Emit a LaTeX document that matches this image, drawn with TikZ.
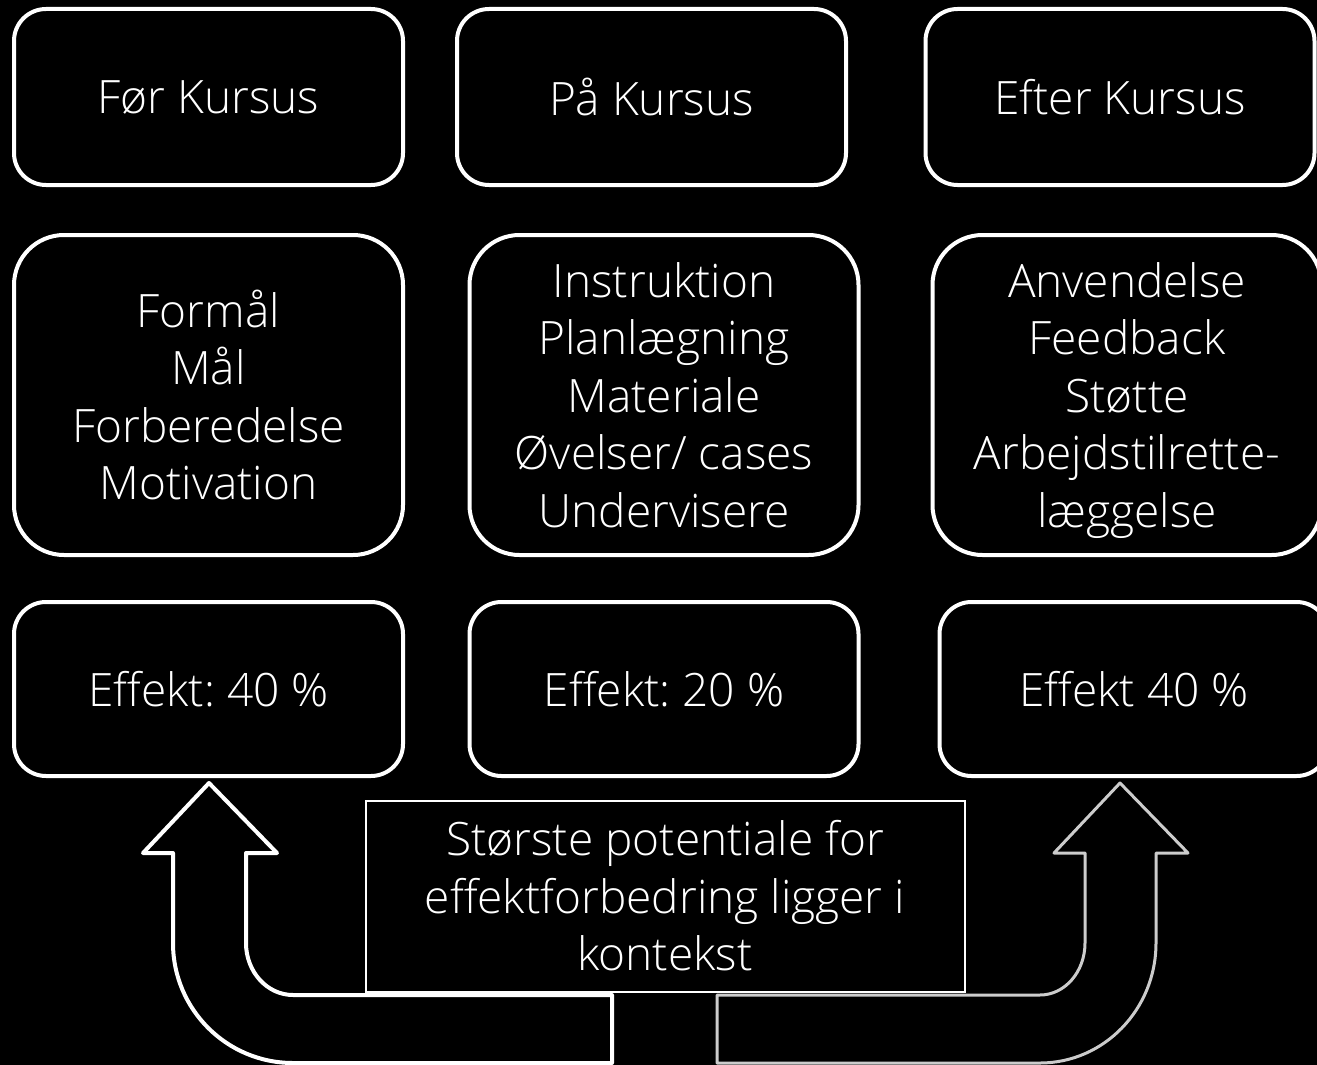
\documentclass[tikz,border=0pt]{standalone}
\usepackage{fontspec}
\setmainfont{Open Sans}[UprightFont=* Light]
\frenchspacing
\begin{document}
\begin{tikzpicture}[x=0.5pt,y=-0.5pt,
  box/.style={draw=white,line width=2pt,fill=black,text=white,align=center,
    font=\fontsize{23}{28.75}\selectfont,inner sep=0pt},
  phase/.style={box,rounded corners=16pt,minimum width=194.5pt,minimum height=88pt,text depth=-3pt},
  items/.style={box,rounded corners=25pt,minimum width=194.5pt,minimum height=160pt,text depth=-2pt},
  effect/.style={box,rounded corners=16pt,minimum width=194.5pt,minimum height=87pt},
  note/.style={box,line width=1pt,minimum width=299.5pt,minimum height=95.5pt},
  bigarrow/.style={fill=black,line join=round}]
  \fill[black] (0,0) rectangle (1317,1065);
  \useasboundingbox (0,0) rectangle (1317,1065);
  \node[phase] (before) at (208.5,97) {Før Kursus};
  \node[phase] (during) at (651.5,97) {På Kursus};
  \node[phase] (after) at (1120,97) {Efter Kursus};
  \node[items] (beforeitems) at (208.5,395) {Formål\\Mål\\Forberedelse\\Motivation};
  \node[items] (duringitems) at (664,395) {Instruktion\\Planlægning\\Materiale\\Øvelser/ cases\\Undervisere};
  \node[items] (afteritems) at (1127,395) {Anvendelse\\Feedback\\Støtte\\Arbejdstilrette-\\læggelse};
  \node[effect] (beforeeffect) at (208.5,689) {Effekt: 40 \%};
  \node[effect] (duringeffect) at (664,689) {Effekt: 20 \%};
  \node[effect] (aftereffect) at (1134,689) {Effekt 40 \%};
  \node[note] (context) at (665,896) {Største potentiale for\\effektforbedring ligger i\\kontekst};
  \draw[bigarrow,draw=white,line width=2pt] (209,783) -- (277,853) -- (246,853) -- (246,943)
    .. controls (246,971.7) and (267,995) .. (293,995) -- (612,995) -- (612,1063) -- (293,1063)
    .. controls (226.7,1063) and (173,1009.3) .. (173,943) -- (173,853) -- (143,853) -- cycle;
  \draw[bigarrow,draw=white!80!black,line width=1.5pt] (1120,783) -- (1188,853) -- (1156,853) -- (1156,943)
    .. controls (1156,1009.3) and (1104,1063) .. (1040,1063) -- (717,1063) -- (717,995) -- (1040,995)
    .. controls (1064.9,995) and (1085,971.7) .. (1085,943) -- (1085,853) -- (1054,853) -- cycle;
\end{tikzpicture}
\end{document}
